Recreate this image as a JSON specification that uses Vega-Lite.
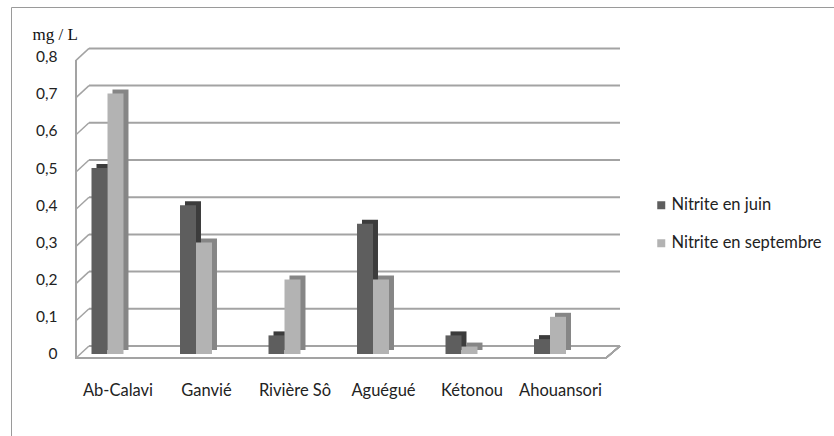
{
  "$schema": "https://vega.github.io/schema/vega-lite/v6.json",
  "autosize": "none",
  "width": 826,
  "height": 432,
  "padding": {"left": 11, "top": 7, "right": -3, "bottom": -3},
  "background": "#ffffff",
  "config": {
    "view": {"stroke": "#9a9a9a", "strokeWidth": 1},
    "font": "Lato"
  },
  "datasets": {
    "nitrite": [
      {"site": "Ab-Calavi", "serie": "Nitrite en juin", "valeur": 0.5},
      {"site": "Ab-Calavi", "serie": "Nitrite en septembre", "valeur": 0.7},
      {"site": "Ganvié", "serie": "Nitrite en juin", "valeur": 0.4},
      {"site": "Ganvié", "serie": "Nitrite en septembre", "valeur": 0.3},
      {"site": "Rivière Sô", "serie": "Nitrite en juin", "valeur": 0.05},
      {"site": "Rivière Sô", "serie": "Nitrite en septembre", "valeur": 0.2},
      {"site": "Aguégué", "serie": "Nitrite en juin", "valeur": 0.35},
      {"site": "Aguégué", "serie": "Nitrite en septembre", "valeur": 0.2},
      {"site": "Kétonou", "serie": "Nitrite en juin", "valeur": 0.05},
      {"site": "Kétonou", "serie": "Nitrite en septembre", "valeur": 0.02},
      {"site": "Ahouansori", "serie": "Nitrite en juin", "valeur": 0.04},
      {"site": "Ahouansori", "serie": "Nitrite en septembre", "valeur": 0.1}
    ],
    "graduations": [
      {"v": 0}, {"v": 0.1}, {"v": 0.2}, {"v": 0.3}, {"v": 0.4},
      {"v": 0.5}, {"v": 0.6}, {"v": 0.7}, {"v": 0.8}
    ]
  },
  "resolve": {"scale": {"xOffset": "independent"}},
  "layer": [
    {
      "description": "back wall gridlines",
      "data": {"name": "graduations"},
      "mark": {"type": "rule", "color": "#a3a3a3", "strokeWidth": 2, "xOffset": -18.5, "x2Offset": 70, "yOffset": -8, "y2Offset": -8},
      "encoding": {
        "x": {"datum": "Ab-Calavi", "type": "nominal"},
        "x2": {"datum": "Ahouansori"},
        "y": {"field": "v", "type": "quantitative"},
        "y2": {"field": "v"}
      }
    },
    {
      "description": "left wall stubs joining front and back",
      "data": {"name": "graduations"},
      "mark": {"type": "rule", "color": "#a3a3a3", "strokeWidth": 1.5, "xOffset": -31.5, "x2Offset": -18.5, "yOffset": 4, "y2Offset": -8},
      "encoding": {
        "x": {"datum": "Ab-Calavi", "type": "nominal"},
        "x2": {"datum": "Ab-Calavi"},
        "y": {"field": "v", "type": "quantitative"},
        "y2": {"field": "v"}
      }
    },
    {
      "description": "left wall front edge",
      "data": {"name": "graduations"},
      "mark": {"type": "rule", "color": "#a3a3a3", "strokeWidth": 1.5, "xOffset": -31.5, "yOffset": 4, "y2Offset": 4},
      "encoding": {
        "x": {"datum": "Ab-Calavi", "type": "nominal"},
        "y": {"datum": 0, "type": "quantitative"},
        "y2": {"datum": 0.8}
      }
    },
    {
      "description": "floor front edge",
      "data": {"name": "graduations"},
      "mark": {"type": "rule", "color": "#a3a3a3", "strokeWidth": 2, "xOffset": -32.5, "x2Offset": 56, "yOffset": 4, "y2Offset": 4},
      "encoding": {
        "x": {"datum": "Ab-Calavi", "type": "nominal"},
        "x2": {"datum": "Ahouansori"},
        "y": {"datum": 0, "type": "quantitative"},
        "y2": {"datum": 0}
      }
    },
    {
      "description": "floor right edge",
      "data": {"name": "graduations"},
      "mark": {"type": "rule", "color": "#a3a3a3", "strokeWidth": 1.5, "xOffset": 56, "x2Offset": 70, "yOffset": 4, "y2Offset": -8},
      "encoding": {
        "x": {"datum": "Ahouansori", "type": "nominal"},
        "x2": {"datum": "Ahouansori"},
        "y": {"datum": 0, "type": "quantitative"},
        "y2": {"datum": 0}
      }
    },
    {
      "description": "bar side and top faces, sub-bands shifted right",
      "data": {"name": "nitrite"},
      "mark": {"type": "bar", "yOffset": -4, "y2Offset": -4},
      "encoding": {
        "x": {"field": "site", "type": "nominal"},
        "xOffset": {
          "field": "serie",
          "type": "nominal",
          "scale": {"paddingInner": 0, "paddingOuter": 1, "align": 0.656}
        },
        "y": {"field": "valeur", "type": "quantitative"},
        "y2": {"datum": 0},
        "color": {
          "condition": {"test": "datum.serie === 'Nitrite en juin'", "value": "#3c3c3c"},
          "value": "#868686"
        }
      }
    },
    {
      "description": "bar front faces",
      "data": {"name": "nitrite"},
      "mark": {"type": "bar"},
      "encoding": {
        "x": {
          "field": "site",
          "type": "nominal",
          "sort": null,
          "scale": {
            "domain": ["Ab-Calavi", "Ganvié", "Rivière Sô", "Aguégué", "Kétonou", "Ahouansori"],
            "range": [52.25, 583.25],
            "paddingInner": 0.277,
            "paddingOuter": 0.1385
          },
          "axis": {
            "title": null,
            "domain": false,
            "ticks": false,
            "labelAngle": 0,
            "labelAlign": "center",
            "labelBaseline": "top",
            "labelFont": "Lato",
            "labelFontSize": 16.5,
            "labelColor": "#222222",
            "labelPadding": 28,
            "labelOffset": 10.5,
            "offset": -85
          }
        },
        "xOffset": {
          "field": "serie",
          "type": "nominal",
          "scale": {"paddingInner": 0, "paddingOuter": 1, "align": 0.5}
        },
        "y": {
          "field": "valeur",
          "type": "quantitative",
          "scale": {"domain": [-0.2285, 0.9328], "nice": false, "zero": false},
          "axis": {
            "values": [0, 0.1, 0.2, 0.3, 0.4, 0.5, 0.6, 0.7, 0.8],
            "labelExpr": "datum.value === 0 ? '0' : replace(format(datum.value, '.1f'), '.', ',')",
            "grid": false,
            "domain": false,
            "ticks": false,
            "offset": -52,
            "labelPadding": 6,
            "labelFont": "Lato",
            "labelFontSize": 15.5,
            "labelColor": "#222222",
            "title": "mg / L",
            "titleFont": "Liberation Serif",
            "titleFontSize": 17,
            "titleFontWeight": "normal",
            "titleColor": "#111111",
            "titleAngle": 0,
            "titleAlign": "left",
            "titleBaseline": "alphabetic",
            "titleX": -31,
            "titleY": 32
          }
        },
        "y2": {"datum": 0},
        "color": {
          "field": "serie",
          "type": "nominal",
          "scale": {"range": ["#5e5e5e", "#b3b3b3"]},
          "legend": {
            "title": null,
            "orient": "none",
            "legendX": 642,
            "legendY": 190,
            "padding": 0,
            "symbolType": "square",
            "symbolSize": 64,
            "symbolStrokeWidth": 0,
            "labelFont": "Lato",
            "labelFontSize": 16.5,
            "labelColor": "#222222",
            "labelOffset": 2,
            "rowPadding": 21
          }
        }
      }
    }
  ]
}
